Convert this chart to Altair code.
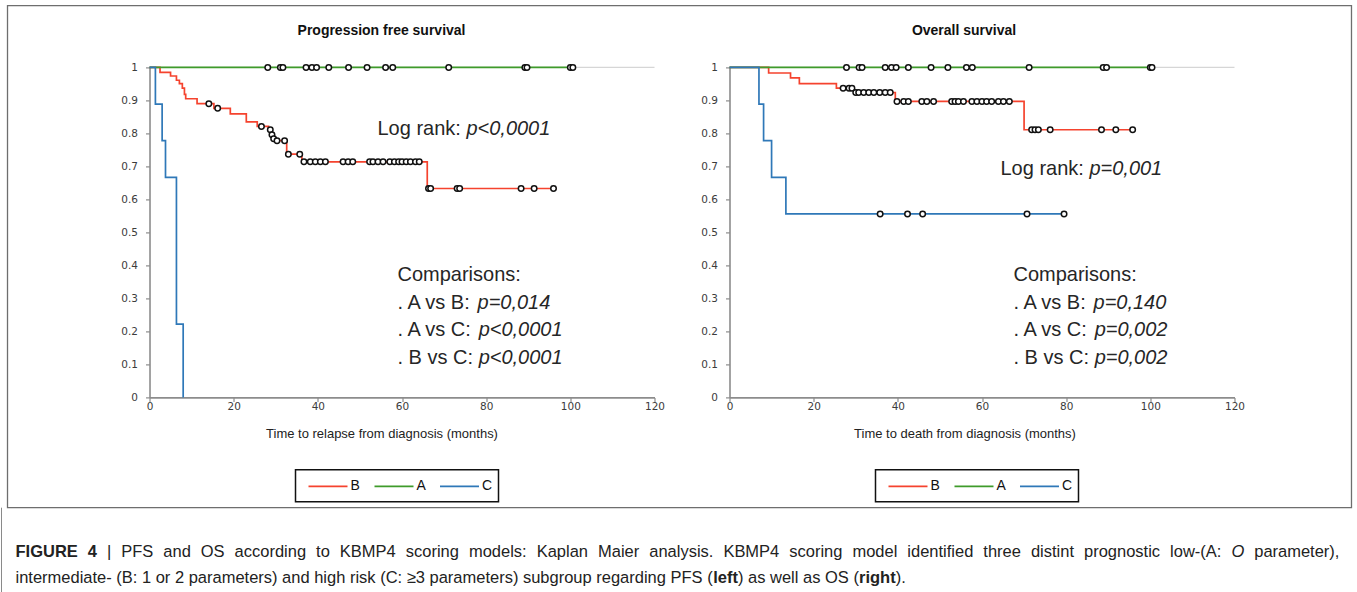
import altair as alt
import pandas as pd

# ------------------------------------------------------------------ data
SERIES = ["B", "A", "C"]
COLORS = ["#f5432e", "#3f9b2b", "#2f78b8"]
X_TICKS = [0, 20, 40, 60, 80, 100, 120]
Y_TICKS = [0, 0.1, 0.2, 0.3, 0.4, 0.5, 0.6, 0.7, 0.8, 0.9, 1]

# Progression free survival (months, survival probability)
pfs_B_t = [0, 2.5, 5.0, 6.4, 7.1, 7.8, 8.3, 8.6, 11.3, 15.3, 19.2, 23.0, 25.6,
           28.3, 28.9, 29.3, 30.0, 32.6, 36.2, 66.0, 96.8]
pfs_B_s = [1.0, 0.985, 0.974, 0.961, 0.951, 0.937, 0.918, 0.905, 0.890, 0.876,
           0.859, 0.835, 0.821, 0.811, 0.796, 0.784, 0.778, 0.737, 0.714, 0.633, 0.633]
pfs_B_cens = [14.1, 16.2, 26.6, 28.7, 29.1, 29.5, 30.3, 32.1, 33.0, 35.7, 36.7,
              38.2, 39.4, 40.6, 41.8, 46.0, 47.2, 48.3, 52.3, 53.1, 54.3, 55.5,
              57.1, 58.2, 59.2, 60.0, 61.0, 62.0, 63.2, 64.1, 66.3, 66.8, 73.1,
              73.7, 88.3, 91.4, 96.0]
pfs_A_t = [0, 100.6]
pfs_A_s = [1.0, 1.0]
pfs_A_cens = [28.1, 31.1, 31.7, 37.2, 38.6, 39.7, 42.6, 47.3, 51.7, 56.1, 57.8,
              71.1, 89.2, 89.7, 100.0, 100.6]
pfs_C_t = [0, 1.4, 3.0, 3.8, 6.4, 8.0]
pfs_C_s = [1.0, 0.889, 0.778, 0.667, 0.222, 0.0]
pfs_C_cens = []

# Overall survival
os_B_t = [0, 9.3, 14.5, 16.6, 25.4, 29.6, 39.4, 70.0, 95.8]
os_B_s = [1.0, 0.983, 0.968, 0.951, 0.937, 0.924, 0.897, 0.811, 0.811]
os_B_cens = [27.0, 28.4, 29.1, 30.0, 30.7, 31.9, 33.1, 34.3, 35.7, 37.0, 38.2,
             39.8, 41.4, 42.5, 45.7, 46.9, 48.5, 52.8, 53.6, 54.4, 55.6, 57.6,
             58.8, 60.0, 61.1, 62.3, 63.9, 65.1, 66.5, 71.8, 72.6, 73.4, 76.2,
             88.4, 91.8, 95.8]
os_A_t = [0, 100.4]
os_A_s = [1.0, 1.0]
os_A_cens = [27.8, 30.8, 31.5, 37.0, 38.5, 39.6, 42.5, 47.9, 51.9, 56.3, 57.7,
             71.2, 88.8, 89.6, 100.0, 100.4]
os_C_t = [0, 7.0, 8.1, 10.0, 13.4, 79.6]
os_C_s = [1.0, 0.889, 0.778, 0.667, 0.556, 0.556]
os_C_cens = [35.8, 42.3, 45.9, 70.7, 79.5]

# texts
PFS_LOGRANK = ("Log rank:", "p<0,0001")
OS_LOGRANK = ("Log rank:", "p=0,001")
PFS_COMP = [(". A vs B:", "p=0,014"), (". A vs C:", "p<0,0001"), (". B vs C:", "p<0,0001")]
OS_COMP = [(". A vs B:", "p=0,140"), (". A vs C:", "p=0,002"), (". B vs C:", "p=0,002")]
CAPTION_1 = [("FIGURE", "b"), ("4", "b"), ("|", "n"), ("PFS", "n"), ("and", "n"),
             ("OS", "n"), ("according", "n"), ("to", "n"), ("KBMP4", "n"),
             ("scoring", "n"), ("models:", "n"), ("Kaplan", "n"), ("Maier", "n"),
             ("analysis.", "n"), ("KBMP4", "n"), ("scoring", "n"), ("model", "n"),
             ("identified", "n"), ("three", "n"), ("distint", "n"),
             ("prognostic", "n"), ("low-(A:", "n"), ("O", "i"),
             ("parameter),", "n")]
CAPTION_2 = [("intermediate- (B: 1 or 2 parameters) and high risk (C: \u22653 parameters) "
              "subgroup regarding PFS (", "n"), ("left", "b"),
             (") as well as OS (", "n"), ("right", "b"), (").", "n")]

# ------------------------------------------------------------------ metrics (Arial = Liberation Sans)
_REG = {' ': 278, '(': 333, ')': 333, ',': 278, '-': 333, '.': 278, ':': 278,
        '|': 260, '<': 584, '=': 584, '\u2265': 549,
        'A': 667, 'B': 667, 'C': 722, 'D': 722, 'E': 667, 'F': 611, 'G': 778,
        'H': 722, 'I': 278, 'J': 500, 'K': 667, 'L': 556, 'M': 833, 'N': 722,
        'O': 778, 'P': 667, 'Q': 778, 'R': 722, 'S': 667, 'T': 611, 'U': 722,
        'V': 667, 'W': 944, 'X': 667, 'Y': 667, 'Z': 611,
        'a': 556, 'b': 556, 'c': 500, 'd': 556, 'e': 556, 'f': 278, 'g': 556,
        'h': 556, 'i': 222, 'j': 222, 'k': 500, 'l': 222, 'm': 833, 'n': 556,
        'o': 556, 'p': 556, 'q': 556, 'r': 333, 's': 500, 't': 278, 'u': 556,
        'v': 500, 'w': 722, 'x': 500, 'y': 500, 'z': 500}
_BOLD = dict(_REG)
_BOLD.update({':': 333, '|': 280, 'A': 722, 'B': 722, 'J': 556, 'K': 722,
              'L': 611, 'b': 611, 'c': 556, 'd': 611, 'f': 333, 'g': 611,
              'h': 611, 'i': 278, 'j': 278, 'k': 556, 'l': 278, 'm': 889,
              'n': 611, 'o': 611, 'p': 611, 'q': 611, 'r': 389, 's': 556,
              't': 333, 'u': 611, 'v': 556, 'w': 778, 'x': 556, 'y': 556})


def tw(s, size, style="n"):
    tbl = _BOLD if style == "b" else _REG
    return sum(tbl.get(c, 556) for c in s) * size / 1000.0


# ------------------------------------------------------------------ helpers
PLOT_W, PLOT_H = 505, 330
L_X0, R_X0, Y0 = 149, 729, 66.7     # plot origins on the page
FONT = "Liberation Sans"
TICK_FONT = "DejaVu Sans"
TICK_SIZE = 10.5
ANN_SIZE = 20
CAP_SIZE = 16.5
one = pd.DataFrame({"k": [0]})


def step_value(ts, ss, x):
    v = ss[0]
    for t, s in zip(ts, ss):
        if t <= x:
            v = s
    return v


def curves_df(curves):
    frames = []
    for g, (ts, ss) in curves:
        frames.append(pd.DataFrame({"time": ts, "surv": ss, "group": g,
                                    "order": range(len(ts))}))
    return pd.concat(frames, ignore_index=True)


def cens_df(curves, cens):
    rows = []
    for (g, (ts, ss)), cs in zip(curves, cens):
        for c in cs:
            rows.append({"time": c, "surv": step_value(ts, ss, c), "group": g})
    return pd.DataFrame(rows)


def text(x, y, s, size=ANN_SIZE, style="n", align="left", color="#262626"):
    return alt.Chart(one).mark_text(
        text=s, align=align, baseline="middle", fontSize=size,
        fontWeight="bold" if style == "b" else "normal",
        fontStyle="italic" if style == "i" else "normal",
        font=FONT, color=color
    ).encode(x=alt.value(x), y=alt.value(y))


def hline(x1, x2, y, color, width=1.5):
    return alt.Chart(one).mark_rule(color=color, strokeWidth=width).encode(
        x=alt.value(x1), x2=alt.value(x2), y=alt.value(y))


def vline(x, y1, y2, color, width=1.0):
    return alt.Chart(one).mark_rule(color=color, strokeWidth=width).encode(
        x=alt.value(x), y=alt.value(y1), y2=alt.value(y2))


def box(x1, x2, y1, y2, color="#111", width=1.5):
    return alt.Chart(one).mark_rect(fillOpacity=0, stroke=color,
                                    strokeWidth=width).encode(
        x=alt.value(x1), x2=alt.value(x2), y=alt.value(y1), y2=alt.value(y2))


def mixed(x, y, parts, size, color="#262626"):
    """consecutive text pieces of different styles on one line"""
    out = []
    for s, st in parts:
        if s.strip():
            out.append(text(x, y, s, size=size, style=st, color=color))
        x += tw(s, size, st)
    return out


def justified(x1, x2, y, words, size):
    total = sum(tw(w, size, st) for w, st in words)
    gap = (x2 - x1 - total) / (len(words) - 1)
    out = []
    x = x1
    for w, st in words:
        out.append(text(x, y, w, size=size, style=st, color="#222"))
        x += tw(w, size, st) + gap
    return out


def legend_layers():
    layers = [box(146, 349, 402.3, 434.3)]
    starts = [159, 225, 290.5]
    for i, (name, col) in enumerate(zip(SERIES, COLORS)):
        x = starts[i]
        layers.append(hline(x, x + 39, 419, col, 1.6))
        layers.append(text(x + 42, 419, name, size=14, color="#111"))
    return layers


def annotations(x_lr, y_lr, lr, x_cmp, comps):
    out = mixed(x_lr, y_lr, [(lr[0], "n"), (" ", "n"), (lr[1], "i")], ANN_SIZE)
    out.append(text(x_cmp, Y(274), "Comparisons:", size=ANN_SIZE))
    for (a, b), yy in zip(comps, [302, 329.5, 357]):
        out += mixed(x_cmp, Y(yy), [(a, "n"), (" ", "n"), (b, "i")], ANN_SIZE)
    return out


def panel(curves, cens, title, title_cx, xtitle, xtitle_cx, extra):
    ldf = curves_df(curves)
    cdf = cens_df(curves, cens)
    xs = alt.Scale(domain=[0, 120], nice=False, zero=False)
    ys = alt.Scale(domain=[0, 1], nice=False)
    col = alt.Color("group:N", scale=alt.Scale(domain=SERIES, range=COLORS),
                    legend=None)
    xaxis = alt.Axis(values=X_TICKS, title=xtitle, titleX=xtitle_cx, titleY=36,
                     titleBaseline="middle", titleAlign="center",
                     titleFont=FONT, titleFontSize=13,
                     titleFontWeight="normal", titleColor="#222",
                     labelFont=TICK_FONT, labelFontSize=TICK_SIZE,
                     labelColor="#3c3c3c",
                     labelPadding=0, tickSize=4, tickColor="#8c8c8c",
                     tickWidth=1.2, domainColor="#8c8c8c", domainWidth=1.6,
                     grid=False, labelFlush=False, labelOverlap=False)
    yaxis = alt.Axis(values=Y_TICKS, title=None,
                     labelExpr="datum.value == 0 ? '0' : datum.value == 1 ? '1' : format(datum.value, '.1f')",
                     labelFont=TICK_FONT, labelFontSize=TICK_SIZE,
                     labelColor="#3c3c3c",
                     labelPadding=8, tickSize=4, tickColor="#8c8c8c",
                     tickWidth=1.2, domainColor="#8c8c8c", domainWidth=1.6,
                     grid=False, labelOverlap=False)

    lines = alt.Chart(ldf).mark_line(interpolate="step-after",
                                     strokeWidth=1.7).encode(
        x=alt.X("time:Q", scale=xs, axis=xaxis),
        y=alt.Y("surv:Q", scale=ys, axis=yaxis),
        color=col,
        order="order:Q",
    )
    grid1 = alt.Chart(one).mark_rule(color="#d6d6d6", strokeWidth=1.2).encode(
        x=alt.XDatum(0, axis=xaxis), x2=alt.X2Datum(120),
        y=alt.YDatum(1, axis=yaxis))
    layers = [grid1, lines]
    if len(cdf):
        pts = alt.Chart(cdf).mark_point(shape="circle", filled=True,
                                        fill="white", stroke="#111",
                                        strokeWidth=1.5, size=30,
                                        opacity=1).encode(
            x=alt.X("time:Q", axis=xaxis), y=alt.Y("surv:Q", axis=yaxis))
        layers.append(pts)
    layers.append(text(title_cx, -36.7, title, size=14, style="b",
                       align="center", color="#111"))
    layers += legend_layers()
    layers += extra
    return alt.layer(*layers).properties(width=PLOT_W, height=PLOT_H)


def L(x):  # page x -> left panel coordinates
    return x - L_X0


def R(x):  # page x -> right panel coordinates
    return x - R_X0


def Y(y):
    return y - Y0


# ------------------------------------------------------------------ annotations
left_extra = annotations(L(377), Y(128.5), PFS_LOGRANK, L(397), PFS_COMP)
left_extra += [
    box(L(7), L(1351), Y(5), Y(507), color="#6e6e6e", width=1.3),
    vline(L(1), Y(507), Y(600), "#8a8a8a", 1.0),
]
left_extra += justified(L(15), L(1339), Y(551), CAPTION_1, CAP_SIZE)
left_extra += mixed(L(15), Y(577), CAPTION_2, CAP_SIZE, color="#222")

right_extra = annotations(R(1000), Y(168), OS_LOGRANK, R(1013), OS_COMP)

pfs_curves = [("B", (pfs_B_t, pfs_B_s)), ("A", (pfs_A_t, pfs_A_s)),
              ("C", (pfs_C_t, pfs_C_s))]
os_curves = [("B", (os_B_t, os_B_s)), ("A", (os_A_t, os_A_s)),
             ("C", (os_C_t, os_C_s))]

left = panel(pfs_curves, [pfs_B_cens, pfs_A_cens, pfs_C_cens],
             "Progression free survival", 232,
             "Time to relapse from diagnosis (months)", 232, left_extra)
right = panel(os_curves, [os_B_cens, os_A_cens, os_C_cens],
              "Overall survival", 234.5,
              "Time to death from diagnosis (months)", 235, right_extra)

chart = alt.hconcat(left, right, spacing=R_X0 - L_X0 - PLOT_W,
                    bounds="flush").properties(
    padding={"left": 0.5, "top": 4.4, "right": 0, "bottom": 0},
    background="white",
).configure_view(strokeWidth=0)

chart.save("out.html", embed_options={"renderer": "svg", "actions": False})
